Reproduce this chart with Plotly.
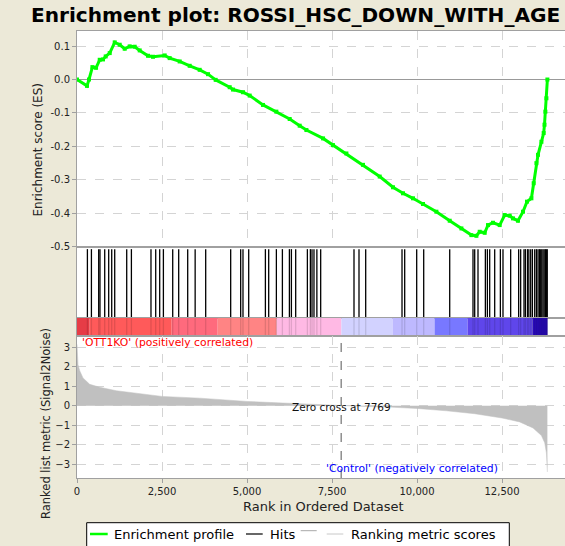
import plotly.graph_objects as go
from plotly.subplots import make_subplots

# ---------------- data ----------------
es_rank = [0, 294, 353, 453, 560, 668, 765, 844, 962, 1109, 1256, 1403, 1550, 1697, 1844,
           2088, 2235, 2579, 2726, 3020, 3315, 3609, 3854, 4079, 4491, 4589, 4883, 5079,
           5471, 5863, 6256, 6550, 6747, 7237, 7530, 7923, 8412, 8903, 9294, 9588, 9882,
           10176, 10570, 10962, 11306, 11600, 11747, 11844, 11991, 12088, 12235, 12432,
           12579, 12726, 12824, 12970, 13118, 13235, 13365, 13432, 13512, 13559, 13659,
           13726, 13750, 13776, 13806, 13835]
es_value = [0.0, -0.019, 0.0, 0.037, 0.035, 0.059, 0.06, 0.069, 0.079, 0.111, 0.104, 0.092,
            0.099, 0.098, 0.087, 0.071, 0.068, 0.072, 0.064, 0.054, 0.041, 0.029, 0.016,
            -0.001, -0.023, -0.03, -0.038, -0.048, -0.076, -0.096, -0.118, -0.138, -0.151,
            -0.176, -0.196, -0.221, -0.255, -0.29, -0.322, -0.34, -0.355, -0.372, -0.395,
            -0.422, -0.445, -0.465, -0.467, -0.455, -0.458, -0.435, -0.428, -0.435, -0.405,
            -0.407, -0.415, -0.422, -0.395, -0.365, -0.355, -0.31, -0.25, -0.225, -0.186,
            -0.16, -0.135, -0.096, -0.056, 0.0]

hit_ranks = [306, 424, 638, 676, 815, 932, 1021, 1109, 1462, 1600, 2176, 2315, 2432, 2541,
             2815, 2991, 3256, 3475, 3785, 4520, 4814, 4882, 5050, 5541, 5638, 5864, 6041,
             6247, 6306, 6432, 6776, 6864, 6912, 6970, 7055, 7167, 8147, 8294, 8491, 9559,
             9638, 9991, 10197, 10962, 11647, 11697, 11794, 12011, 12070, 12138, 12285,
             12452, 12529, 12755, 12990, 13049, 13147, 13188, 13250, 13290, 13344, 13394,
             13462, 13512, 13559, 13600, 13638, 13670, 13706, 13740, 13776, 13814, 13830]

metric_rank = [0, 10, 30, 80, 176, 373, 667, 1158, 1647, 2500, 3608, 5000, 6050, 7000, 7769,
               8500, 9197, 10000, 10864, 11697, 12500, 13020, 13412, 13659, 13756, 13806,
               13835]
metric_value = [3.15, 2.6, 2.1, 1.8, 1.43, 1.1, 0.95, 0.77, 0.65, 0.48, 0.39, 0.22, 0.14,
                0.06, 0.0, -0.04, -0.07, -0.14, -0.26, -0.41, -0.63, -0.83, -1.14, -1.53,
                -1.9, -2.42, -3.4]

band_edges = [0, 373, 2785, 4138, 5873, 7776, 9282, 10517, 11488, 13400, 13840]
band_colors = ['#E63C46', '#FF5A5A', '#FF6A7D', '#FF8484', '#FFB9E4', '#D2D2FF',
               '#BEB9FF', '#7878FF', '#5F46EB', '#2A0ABE']

zero_cross = 7769
x_ticks = [0, 2500, 5000, 7500, 10000, 12500]
es_ticks = [0.1, 0.0, -0.1, -0.2, -0.3, -0.4, -0.5]
metric_ticks = [3, 2, 1, 0, -1, -2, -3]

# ---------------- geometry helpers ----------------
W, H = 565, 546
L, R, T, B = 77, 0, 31, 68
PW, PH = W - L - R, H - T - B


def px(x):
    return (x - L) / PW


def py(y):
    return (H - B - y) / PH


FONT = "DejaVu Sans"
GRID = '#d4d4d4'
BORDER = '#a0a0a0'

fig = make_subplots(rows=4, cols=1, shared_xaxes=True, vertical_spacing=0,
                    row_heights=[216, 71, 18, 142])

# ES profile
fig.add_trace(go.Scatter(x=es_rank, y=es_value, mode='lines+markers',
                         line=dict(color='#00ff00', width=3),
                         marker=dict(symbol='square', size=4, color='#00ff00'),
                         name='Enrichment profile'), row=1, col=1)

# Hits
hx, hy = [], []
for r in hit_ranks:
    hx += [r, r, None]
    hy += [0, 0.97, None]
fig.add_trace(go.Scatter(x=hx, y=hy, mode='lines', line=dict(color='black', width=1.3),
                         name='Hits'), row=2, col=1)

# Color band
mids = [(a + b) / 2 for a, b in zip(band_edges[:-1], band_edges[1:])]
widths = [b - a for a, b in zip(band_edges[:-1], band_edges[1:])]
fig.add_trace(go.Bar(x=mids, y=[1] * len(mids), width=widths, base=0,
                     marker=dict(color=band_colors, line=dict(width=0))), row=3, col=1)
hx2, hy2 = [], []
for r in hit_ranks:
    hx2 += [r, r, None]
    hy2 += [0, 1, None]
fig.add_trace(go.Scatter(x=hx2, y=hy2, mode='lines',
                         line=dict(color='rgba(0,0,0,0.12)', width=1.3)), row=3, col=1)

# Ranked metric
fig.add_trace(go.Scatter(x=metric_rank, y=metric_value, mode='lines', fill='tozeroy',
                         fillcolor='#c0c0c0', line=dict(color='#c0c0c0', width=0.5),
                         name='Ranking metric scores'), row=4, col=1)

xmax = (W - L) / 85.0 * 2500
for i in range(1, 5):
    fig.update_xaxes(range=[0, xmax], showline=True, mirror=True, linecolor=BORDER,
                     linewidth=1, zeroline=False, tickvals=x_ticks,
                     showgrid=(i in (1, 4)), gridcolor=GRID, griddash='dash',
                     ticks='outside' if i == 4 else '', ticklen=4, tickcolor=BORDER,
                     row=i, col=1)
fig.update_xaxes(showticklabels=True, tickformat=',d',
                 tickfont=dict(family=FONT, size=10, color='#222'), row=4, col=1)

fig.update_yaxes(range=[-0.5005, 0.145], tickvals=es_ticks,
                 ticktext=['{:.1f}'.format(v) for v in es_ticks],
                 showgrid=True, gridcolor=GRID, griddash='dash',
                 zeroline=True, zerolinecolor='#999999', zerolinewidth=1,
                 showline=True, mirror=True, linecolor=BORDER, ticks='outside', ticklen=4,
                 tickcolor=BORDER, tickfont=dict(family=FONT, size=10, color='#222'),
                 row=1, col=1)
for i in (2, 3):
    fig.update_yaxes(range=[0, 1], showgrid=False, zeroline=False, showticklabels=False,
                     showline=True, mirror=True, linecolor=BORDER, ticks='', row=i, col=1)
fig.update_yaxes(range=[-3.71, 3.58], tickvals=metric_ticks,
                 showgrid=True, gridcolor=GRID, griddash='dash', zeroline=False,
                 showline=True, mirror=True, linecolor=BORDER, ticks='outside', ticklen=4,
                 tickcolor=BORDER, tickfont=dict(family=FONT, size=10, color='#222'),
                 row=4, col=1)

shapes = [
    dict(type='line', xref='x4', x0=zero_cross, x1=zero_cross, yref='y4 domain', y0=0, y1=1,
         line=dict(color='#555555', width=1, dash='dash')),
    # legend box
    dict(type='rect', xref='paper', yref='paper', x0=px(86.7), x1=px(509.3),
         y0=py(549), y1=py(522.7), fillcolor='white', line=dict(color='black', width=1)),
    dict(type='line', xref='paper', yref='paper', x0=px(90), x1=px(107.7), y0=py(534),
         y1=py(534), line=dict(color='#00ff00', width=2.5)),
    dict(type='line', xref='paper', yref='paper', x0=px(246), x1=px(262.7), y0=py(534),
         y1=py(534), line=dict(color='black', width=1.2)),
    dict(type='line', xref='paper', yref='paper', x0=px(300.7), x1=px(316.7), y0=py(530.7),
         y1=py(530.7), line=dict(color='#a8a8a8', width=1)),
    dict(type='line', xref='paper', yref='paper', x0=px(326.7), x1=px(343.3), y0=py(534),
         y1=py(534), line=dict(color='#c8c8c8', width=1)),
]

ann = [
    dict(text='Enrichment plot: ROSSI_HSC_DOWN_WITH_AGE', x=px(29), y=py(15),
         xanchor='left', yanchor='middle',
         font=dict(family=FONT, size=20.1, color='black', weight='bold')),
    dict(text='Enrichment score (ES)', x=px(37.5), y=py(150), textangle=-90,
         xanchor='center', yanchor='middle', font=dict(family=FONT, size=12, color='#222')),
    dict(text='Ranked list metric (Signal2Noise)', x=px(46), y=py(424), textangle=-90,
         xanchor='center', yanchor='middle', font=dict(family=FONT, size=11.5, color='#222')),
    dict(text='Rank in Ordered Dataset', x=px(323), y=py(506), xanchor='center',
         yanchor='middle', font=dict(family=FONT, size=13, color='#222')),
    dict(text="'OTT1KO' (positively correlated)", x=px(80), y=py(342.7), xanchor='left',
         yanchor='middle', font=dict(family=FONT, size=10.8, color='#ff0000')),
    dict(text="'Control' (negatively correlated)", x=px(411.7), y=py(468.3),
         xanchor='center', yanchor='middle', font=dict(family=FONT, size=10.8, color='#0000ff')),
    dict(text='Zero cross at {}'.format(zero_cross), xref='x4', yref='y4', x=zero_cross,
         y=-0.06, xanchor='center', yanchor='middle',
         font=dict(family=FONT, size=10.5, color='#111')),
    dict(text='Enrichment profile', x=px(111.7), y=py(534), xanchor='left', yanchor='middle',
         font=dict(family=FONT, size=13, color='black')),
    dict(text='Hits', x=px(268), y=py(534), xanchor='left', yanchor='middle',
         font=dict(family=FONT, size=13, color='black')),
    dict(text='Ranking metric scores', x=px(349), y=py(534), xanchor='left', yanchor='middle',
         font=dict(family=FONT, size=13, color='black')),
]
for a in ann:
    a.setdefault('xref', 'paper')
    a.setdefault('yref', 'paper')
    a['showarrow'] = False

fig.update_layout(width=W, height=H, margin=dict(l=L, r=R, t=T, b=B),
                  paper_bgcolor='#ECE9D8', plot_bgcolor='white', showlegend=False,
                  font=dict(family=FONT), shapes=shapes, annotations=ann)

fig.write_html('out.html', config={'displayModeBar': False},
               post_script="document.body.style.margin='0';document.body.style.padding='0';"
                           "document.body.style.overflow='hidden';")
